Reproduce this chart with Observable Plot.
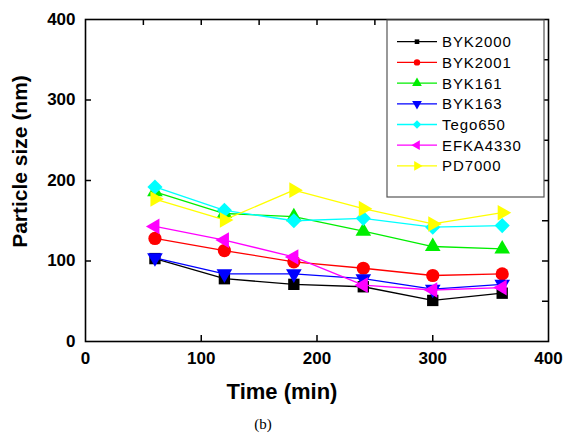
<!DOCTYPE html>
<html><head><meta charset="utf-8">
<script src="https://cdn.jsdelivr.net/npm/d3@7"></script>
<script src="https://cdn.jsdelivr.net/npm/@observablehq/plot@0.6"></script>
<style>
html,body{margin:0;padding:0;background:#fff;}
svg{display:block;}
</style></head><body><div id="chart"></div>
<script>
const times = [60, 120, 180, 240, 300, 360];
const seriesNames = ["BYK2000", "BYK2001", "BYK161", "BYK163", "Tego650", "EFKA4330", "PD7000"];
const byk2000 = [103, 78, 71, 68, 51, 60];
const byk2001 = [128, 113, 99, 91, 82, 84];
const byk161 = [186, 159, 155, 137, 118, 115];
const byk163 = [104, 84, 84, 78, 65, 71];
const tego650 = [192, 163, 150, 153, 142, 144];
const efka4330 = [143, 126, 105, 70, 64, 67];
const pd7000 = [177, 151, 188, 165, 146, 160];
const seriesValues = [byk2000, byk2001, byk161, byk163, tego650, efka4330, pd7000];
const seriesColors = ["#000000", "#ff0000", "#00ee00", "#0000ff", "#00ffff", "#ff00ff", "#ffff00"];
const xTicks = [0, 100, 200, 300, 400];
const yTicks = [0, 100, 200, 300, 400];
const xMinor = [50, 100, 150, 200, 250, 300, 350];
const yMinor = [50, 100, 150, 200, 250, 300, 350];
const xInner = [100, 200, 300];
const yInner = [100, 200, 300];
const xTitle = "Time (min)";
const yTitle = "Particle size (nm)";
const caption = "(b)";

// custom triangle symbols (same area formula as d3.symbolTriangle)
const s3 = Math.sqrt(3);
function tri(dir) {
  return {draw(ctx, size) {
    const y = -Math.sqrt(size / (s3 * 3));
    let pts = [[0, 2 * y], [-s3 * y, -y], [s3 * y, -y]];
    if (dir === "down") pts = pts.map(([a, b]) => [a, -b]);
    if (dir === "left") pts = pts.map(([a, b]) => [b, a]);
    if (dir === "right") pts = pts.map(([a, b]) => [-b, a]);
    ctx.moveTo(pts[0][0], pts[0][1]);
    ctx.lineTo(pts[1][0], pts[1][1]);
    ctx.lineTo(pts[2][0], pts[2][1]);
    ctx.closePath();
  }};
}
const seriesSymbols = [d3.symbolSquare, d3.symbolCircle, tri("up"), tri("down"), d3.symbolDiamond2, tri("left"), tri("right")];
const seriesR = [6.4, 6.6, 5.8, 5.8, 6.8, 5.8, 5.8];

const W = 564, H = 437;
const mL = 85, mR = 16, mT = 19, mB = 96;
const fw = W - mL - mR, fh = H - mT - mB;
const font = "'Liberation Sans', Arial, sans-serif";

const marks = [];
seriesNames.forEach((name, i) => {
  const rows = times.map((t, j) => ({t, v: seriesValues[i][j]}));
  marks.push(Plot.line(rows, {x: "t", y: "v", stroke: seriesColors[i], strokeWidth: 1.3}));
  marks.push(Plot.dot(rows, {x: "t", y: "v", fill: seriesColors[i], stroke: "none", symbol: seriesSymbols[i], r: seriesR[i]}));
});

const plot = Plot.plot({
  width: W, height: H,
  marginLeft: mL, marginRight: mR, marginTop: mT, marginBottom: mB,
  style: {fontFamily: font, background: "#fff"},
  x: {domain: [0, 400]},
  y: {domain: [0, 400]},
  marks: [
    Plot.axisX(xTicks, {tickSize: 0, tickPadding: 10, fontSize: 17, fontWeight: "bold", label: null}),
    Plot.axisY(yTicks, {tickSize: 0, tickPadding: 10, fontSize: 17, fontWeight: "bold", label: null}),
    Plot.tickX(xInner, {x: d => d, insetTop: fh - 6, stroke: "#000", strokeWidth: 1.5}),
    Plot.tickX(xMinor, {x: d => d, insetBottom: fh - 6, stroke: "#000", strokeWidth: 1.5}),
    Plot.tickY(yInner, {y: d => d, insetRight: fw - 6, stroke: "#000", strokeWidth: 1.5}),
    Plot.tickY(yMinor, {y: d => d, insetLeft: fw - 6, stroke: "#000", strokeWidth: 1.5}),
    ...marks,
    Plot.frame({stroke: "#000", strokeWidth: 1.6}),
    Plot.text([xTitle], {text: d => d, frameAnchor: "bottom", textAnchor: "middle", lineAnchor: "middle", dx: -35, dy: 50, fontSize: 22, fontWeight: "bold", fill: "#000"}),
    Plot.text([yTitle], {text: d => d, frameAnchor: "left", textAnchor: "middle", lineAnchor: "middle", dx: -65, dy: -19, rotate: -90, fontSize: 21, fontWeight: "bold", fill: "#000"}),
    Plot.text([caption], {text: d => d, frameAnchor: "bottom", textAnchor: "middle", lineAnchor: "middle", dx: -54, dy: 83, fontSize: 15, fontFamily: "'Liberation Serif', 'DejaVu Serif', serif", fill: "#000"})
  ]
});

// legend inside the frame
const svg = d3.select(plot);
const lg = svg.append("g").attr("class", "legend").attr("text-anchor", "start");
const bx = 387, by = 20, bw = 157, bh = 177;
lg.append("rect").attr("x", bx).attr("y", by).attr("width", bw).attr("height", bh)
  .attr("fill", "#fff").attr("stroke", "#555").attr("stroke-width", 1.2);
const legSizes = [2.6, 3.2, 3.6, 3.6, 3.8, 3.6, 3.6];
seriesNames.forEach((name, i) => {
  const cy = 41.7 + i * 20.7;
  lg.append("line").attr("x1", 397).attr("x2", 437).attr("y1", cy).attr("y2", cy)
    .attr("stroke", seriesColors[i]).attr("stroke-width", 1.3);
  lg.append("path").attr("transform", `translate(417,${cy})`)
    .attr("d", d3.symbol(seriesSymbols[i], Math.PI * legSizes[i] * legSizes[i])())
    .attr("fill", seriesColors[i]);
  lg.append("text").attr("x", 442).attr("y", cy).attr("dy", "0.36em")
    .attr("text-anchor", "start")
    .attr("font-size", 15).attr("letter-spacing", "0.9px").attr("font-family", font)
    .attr("fill", "#000").text(name);
});

document.getElementById("chart").appendChild(plot);
</script>
</body></html>
